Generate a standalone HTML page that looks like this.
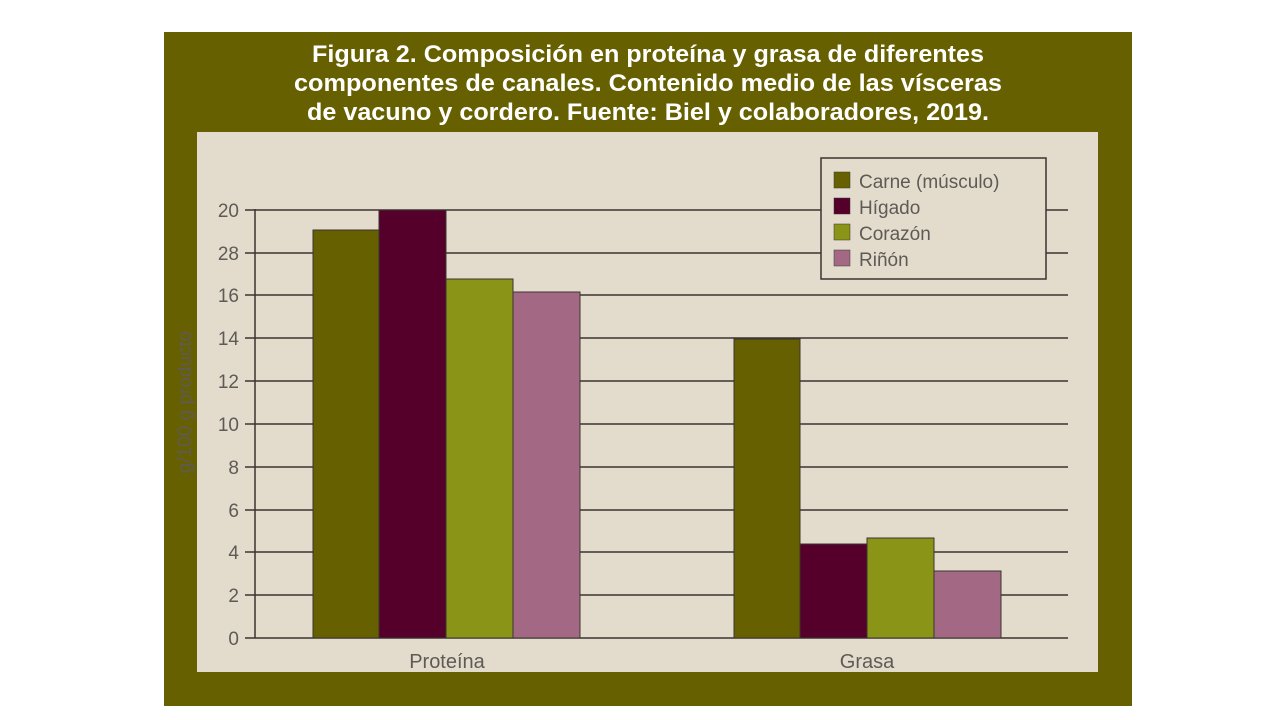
<!DOCTYPE html>
<html><head><meta charset="utf-8"><style>
html,body{margin:0;padding:0;background:#fff;width:1280px;height:720px;overflow:hidden}
</style></head><body>
<svg width="1280" height="720" viewBox="0 0 1280 720" xmlns="http://www.w3.org/2000/svg" font-family="Liberation Sans, sans-serif">
<rect x="164" y="32" width="968" height="674" fill="#676000"/>
<g fill="#fff" font-weight="bold" font-size="24" text-anchor="middle" font-family="Liberation Sans, sans-serif">
<text x="648" y="62" textLength="672" lengthAdjust="spacingAndGlyphs">Figura 2. Composición en proteína y grasa de diferentes</text>
<text x="648" y="91" textLength="708" lengthAdjust="spacingAndGlyphs">componentes de canales. Contenido medio de las vísceras</text>
<text x="648" y="120" textLength="682" lengthAdjust="spacingAndGlyphs">de vacuno y cordero. Fuente: Biel y colaboradores, 2019.</text>
</g>
<rect x="197" y="132" width="901" height="540" fill="#e3dccd"/>
<g stroke="#3a3530" stroke-width="1.5">
<line x1="245" y1="210" x2="1068" y2="210"/>
<line x1="245" y1="253" x2="1068" y2="253"/>
<line x1="245" y1="295" x2="1068" y2="295"/>
<line x1="245" y1="338" x2="1068" y2="338"/>
<line x1="245" y1="381" x2="1068" y2="381"/>
<line x1="245" y1="424" x2="1068" y2="424"/>
<line x1="245" y1="467" x2="1068" y2="467"/>
<line x1="245" y1="510" x2="1068" y2="510"/>
<line x1="245" y1="552" x2="1068" y2="552"/>
<line x1="245" y1="595" x2="1068" y2="595"/>
<line x1="245" y1="638" x2="1068" y2="638"/>
<line x1="255" y1="209" x2="255" y2="638"/>
</g>
<g fill="#5e5a55" font-size="19" text-anchor="end" font-family="Liberation Sans, sans-serif">
<text x="239" y="217">20</text><text x="239" y="260">28</text><text x="239" y="302">16</text>
<text x="239" y="345">14</text><text x="239" y="388">12</text><text x="239" y="431">10</text>
<text x="239" y="474">8</text><text x="239" y="517">6</text><text x="239" y="559">4</text>
<text x="239" y="602">2</text><text x="239" y="645">0</text>
</g>
<text transform="translate(191,402) rotate(-90)" fill="#5e5a55" font-size="19" text-anchor="middle" font-family="Liberation Sans, sans-serif">g/100 g producto</text>
<g stroke="#3a3530" stroke-width="1">
<rect x="313" y="230" width="66" height="408" fill="#676000"/>
<rect x="379" y="210" width="67" height="428" fill="#55002a"/>
<rect x="446" y="279" width="67" height="359" fill="#8a9416"/>
<rect x="513" y="292" width="67" height="346" fill="#a36984"/>
<rect x="734" y="339" width="66" height="299" fill="#676000"/>
<rect x="800" y="544" width="67" height="94" fill="#55002a"/>
<rect x="867" y="538" width="67" height="100" fill="#8a9416"/>
<rect x="934" y="571" width="67" height="67" fill="#a36984"/>
</g>
<g fill="#5e5a55" font-size="20" text-anchor="middle" font-family="Liberation Sans, sans-serif">
<text x="447" y="668">Proteína</text><text x="867" y="668">Grasa</text>
</g>
<rect x="821" y="158" width="225" height="121" fill="#e3dccd" stroke="#3a3530" stroke-width="1.5"/>
<g stroke="#3a3530" stroke-width="0.5">
<rect x="834" y="172" width="16" height="16" fill="#676000"/>
<rect x="834" y="198" width="16" height="16" fill="#55002a"/>
<rect x="834" y="224" width="16" height="16" fill="#8a9416"/>
<rect x="834" y="250" width="16" height="16" fill="#a36984"/>
</g>
<g fill="#5e5a55" font-size="19" font-family="Liberation Sans, sans-serif">
<text x="859" y="188">Carne (músculo)</text><text x="859" y="214">Hígado</text>
<text x="859" y="240">Corazón</text><text x="859" y="266">Riñón</text>
</g>
</svg>
</body></html>
